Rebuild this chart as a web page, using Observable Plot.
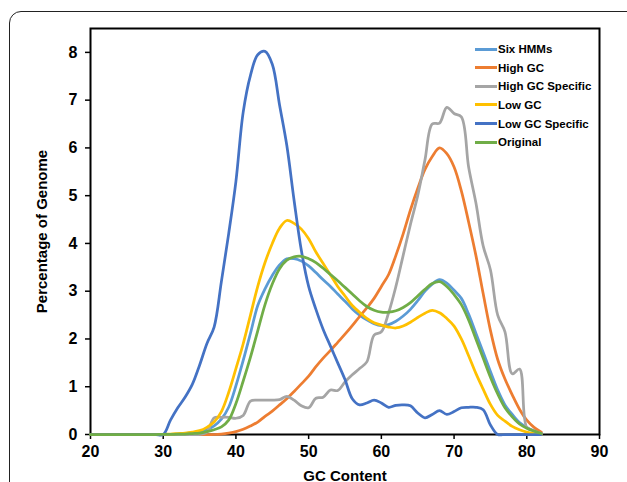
<!DOCTYPE html>
<html>
<head>
<meta charset="utf-8">
<script src="https://cdn.jsdelivr.net/npm/d3@7"></script>
<script src="https://cdn.jsdelivr.net/npm/@observablehq/plot@0.6"></script>
<style>
  html, body { margin: 0; padding: 0; background: #fff; }
  #wrap { position: relative; width: 627px; height: 482px; overflow: hidden; font-family: "Liberation Sans", Arial, sans-serif; }
  #panel { position: absolute; left: 9px; top: 11px; width: 640px; height: 540px; border: 1.5px solid #222; border-radius: 12px; box-sizing: border-box; }
  #chart { position: absolute; left: 0; top: 0; }
  #chart svg g[aria-label="x-axis tick label"] text,
  #chart svg g[aria-label="y-axis tick label"] text { font-size: 16px; }
  #legend { position: absolute; left: 475px; top: 39.7px; font-weight: bold; font-size: 11.5px; color: #000; }
  .row { display: flex; align-items: center; height: 18.66px; white-space: nowrap; }
  .sw { width: 22px; height: 3px; margin-right: 1px; }
</style>
</head>
<body>
<div id="wrap">
  <div id="panel"></div>
  <div id="chart"></div>
  <div id="legend"></div>
</div>
<script>
// GC content categories (x)
const gc = [20,21,22,23,24,25,26,27,28,29,30,31,32,33,34,35,36,37,38,39,40,41,42,43,44,45,46,47,48,49,50,51,52,53,54,55,56,57,58,59,60,61,62,63,64,65,66,67,68,69,70,71,72,73,74,75,76,77,78,79,80,81,82];

// Series values: percentage of genome
const sixHMMs = [0,0,0,0,0,0,0,0,0,0,
  0.003,0.005,0.01,0.02,0.04,0.06,0.1,0.18,0.32,0.57,1.02,
  1.55,2.12,2.7,3.05,3.33,3.55,3.68,3.68,3.63,3.53,
  3.39,3.24,3.1,2.94,2.79,2.63,2.5,2.4,2.32,2.28,
  2.3,2.37,2.48,2.62,2.8,3.0,3.15,3.24,3.17,3.02,
  2.85,2.52,2.12,1.72,1.32,0.93,0.62,0.42,0.25,0.15,
  0.08,0.03];
const highGC = [0,0,0,0,0,0,0,0,0,0,0,0,0,0,0,0,0,
  0,0.01,0.03,0.06,
  0.11,0.18,0.26,0.38,0.49,0.62,0.75,0.9,1.06,1.22,
  1.42,1.6,1.76,1.93,2.1,2.28,2.47,2.65,2.85,3.1,
  3.35,3.75,4.2,4.7,5.15,5.55,5.82,6.0,5.88,5.6,
  5.1,4.45,3.75,2.95,2.18,1.57,1.16,0.83,0.53,0.3,
  0.15,0.05];
const highGCSpecific = [0,0,0,0,0,0,0,0,0,0,0,0,0,0,0,0,
  0.05,0.35,0.36,0.36,0.34,
  0.4,0.7,0.72,0.72,0.72,0.73,0.8,0.72,0.6,0.56,
  0.76,0.78,0.93,0.92,1.1,1.25,1.38,1.52,2.08,2.15,
  2.55,3.1,3.75,4.4,5.0,5.75,6.5,6.52,6.85,6.72,
  6.65,5.6,4.85,3.95,3.45,2.5,2.15,1.27,1.37,0.15,
  0.08,0.02];
const lowGC = [0,0,0,0,0,0,0,0,0,0,
  0.005,0.01,0.02,0.03,0.05,0.08,0.15,0.26,0.48,0.88,1.38,
  1.9,2.5,3.1,3.6,4.0,4.32,4.48,4.42,4.3,4.1,
  3.82,3.58,3.34,3.1,2.9,2.7,2.56,2.43,2.34,2.29,
  2.25,2.23,2.27,2.35,2.45,2.54,2.6,2.55,2.43,2.27,
  2.0,1.65,1.28,0.95,0.63,0.4,0.28,0.17,0.1,0.05,
  0.02,0];
const lowGCSpecific = [0,0,0,0,0,0,0,0,0,0,0,
  0.3,0.56,0.78,1.05,1.45,1.9,2.25,3.2,4.2,5.3,
  6.75,7.52,7.95,8.02,7.75,6.9,6.05,4.9,3.85,3.1,
  2.62,2.2,1.85,1.5,1.15,0.75,0.62,0.66,0.72,0.66,
  0.57,0.61,0.62,0.6,0.45,0.35,0.42,0.5,0.42,0.48,
  0.56,0.57,0.57,0.52,0.2,0,0,0,0,0,
  0,0];
const original = [0,0,0,0,0,0,0,0,0,0,
  0.002,0.004,0.006,0.01,0.02,0.03,0.06,0.1,0.16,0.3,0.65,
  1.12,1.62,2.17,2.72,3.15,3.47,3.65,3.72,3.73,3.68,
  3.6,3.48,3.35,3.22,3.08,2.94,2.8,2.68,2.6,2.56,
  2.56,2.59,2.66,2.76,2.9,3.04,3.16,3.2,3.1,2.93,
  2.72,2.4,2.0,1.6,1.2,0.85,0.56,0.37,0.22,0.13,
  0.07,0.02];

const seriesNames = ["Six HMMs","High GC","High GC Specific","Low GC","Low GC Specific","Original"];
const seriesColors = ["#5B9BD5","#ED7D31","#A5A5A5","#FFC000","#4472C4","#70AD47"];
const seriesValues = [sixHMMs, highGC, highGCSpecific, lowGC, lowGCSpecific, original];

const xTicks = [20,30,40,50,60,70,80,90];
const yTicks = [0,1,2,3,4,5,6,7,8];

const data = seriesNames.flatMap((name, k) =>
  gc.map((x, i) => ({gc: x, pct: seriesValues[k][i], series: name})));

const chart = Plot.plot({
  width: 627,
  height: 482,
  marginLeft: 90,
  marginRight: 28,
  marginTop: 28,
  marginBottom: 48,
  style: {fontFamily: "'Liberation Sans', Arial, sans-serif", fontSize: "15px", fontWeight: "bold", background: "transparent", color: "#000", overflow: "visible"},
  x: {domain: [20, 90]},
  y: {domain: [0, 8.5]},
  color: {domain: seriesNames, range: seriesColors},
  marks: [
    Plot.frame({stroke: "#000", strokeWidth: 2}),
    Plot.axisX({ticks: xTicks, tickSize: 5, tickPadding: 6, tickFormat: d => String(d), label: "GC Content", labelAnchor: "center", labelOffset: 46, labelArrow: "none", stroke: "#000", strokeWidth: 1.5}),
    Plot.axisY({ticks: yTicks, tickSize: 5, tickPadding: 8, tickFormat: d => String(d), label: "Percentage of Genome", labelAnchor: "center", labelOffset: 54, labelArrow: "none", stroke: "#000", strokeWidth: 1.5}),
    Plot.line(data, {x: "gc", y: "pct", z: "series", stroke: "series", strokeWidth: 2.75, curve: "catmull-rom"})
  ]
});
document.getElementById("chart").appendChild(chart);

const legend = document.getElementById("legend");
seriesNames.forEach((name, k) => {
  const row = document.createElement("div");
  row.className = "row";
  const sw = document.createElement("span");
  sw.className = "sw";
  sw.style.background = seriesColors[k];
  const label = document.createElement("span");
  label.textContent = name;
  row.appendChild(sw);
  row.appendChild(label);
  legend.appendChild(row);
});
</script>
</body>
</html>
